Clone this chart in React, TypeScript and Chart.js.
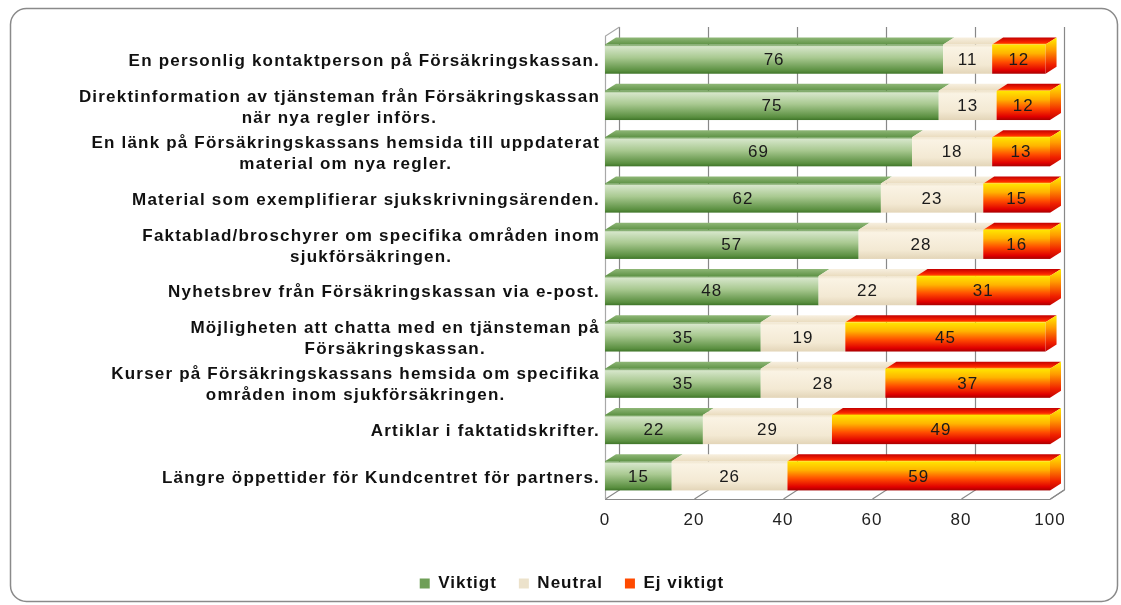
import React, { useEffect, useRef } from 'react';
import { Chart, registerables } from 'chart.js';
Chart.register(...registerables);

const categories: string[][] = [
  ['En personlig kontaktperson på Försäkringskassan.'],
  ['Direktinformation av tjänsteman från Försäkringskassan', 'när nya regler införs.'],
  ['En länk på Försäkringskassans hemsida till uppdaterat', 'material om nya regler.'],
  ['Material som exemplifierar sjukskrivningsärenden.'],
  ['Faktablad/broschyrer om specifika områden inom', 'sjukförsäkringen.'],
  ['Nyhetsbrev från Försäkringskassan via e-post.'],
  ['Möjligheten att chatta med en tjänsteman på', 'Försäkringskassan.'],
  ['Kurser på Försäkringskassans hemsida om specifika', 'områden inom sjukförsäkringen.'],
  ['Artiklar i faktatidskrifter.'],
  ['Längre öppettider för Kundcentret för partners.'],
];
const viktigt = [76, 75, 69, 62, 57, 48, 35, 35, 22, 15];
const neutral = [11, 13, 18, 23, 28, 22, 19, 28, 29, 26];
const ejViktigt = [12, 12, 13, 15, 16, 31, 45, 37, 49, 59];
const seriesNames = ['Viktigt', 'Neutral', 'Ej viktigt'];
const xMin = 0;
const xMax = 100;
const xStep = 20;

const FONT = '"Liberation Sans", Arial, sans-serif';
const SPACING = '1px';
const WALL_DX = 14;
const WALL_DY = 9;
const BAR_DX = 11;
const BAR_DY = 7;

function frontGradient(ctx: CanvasRenderingContext2D, j: number, top: number, bot: number) {
  const g = ctx.createLinearGradient(0, top, 0, bot);
  if (j === 0) {
    g.addColorStop(0, '#5d9244');
    g.addColorStop(0.07, '#d6e6ca');
    g.addColorStop(0.45, '#a9c991');
    g.addColorStop(0.9, '#5a8f40');
    g.addColorStop(1, '#3f7529');
  } else if (j === 1) {
    g.addColorStop(0, '#efe4cc');
    g.addColorStop(0.1, '#faf3e4');
    g.addColorStop(0.7, '#f3e9d3');
    g.addColorStop(1, '#e3d5b8');
  } else {
    g.addColorStop(0, '#ffe600');
    g.addColorStop(0.3, '#ffb400');
    g.addColorStop(0.6, '#ff4c00');
    g.addColorStop(0.88, '#e00000');
    g.addColorStop(1, '#a80000');
  }
  return g;
}

function topGradient(ctx: CanvasRenderingContext2D, j: number, top: number, back: number) {
  const g = ctx.createLinearGradient(0, back, 0, top);
  if (j === 0) {
    g.addColorStop(0, '#8fb777');
    g.addColorStop(1, '#5f9346');
  } else if (j === 1) {
    g.addColorStop(0, '#f7efdf');
    g.addColorStop(1, '#eadcbf');
  } else {
    g.addColorStop(0, '#c40000');
    g.addColorStop(0.75, '#ff2a00');
    g.addColorStop(1, '#ffa000');
  }
  return g;
}

const threeDPlugin = {
  id: 'threeD',
  beforeLayout(chart: any) {
    (chart.ctx as any).letterSpacing = SPACING;
  },
  beforeDraw(chart: any) {
    const ctx: CanvasRenderingContext2D = chart.ctx;
    (ctx as any).letterSpacing = SPACING;
    ctx.save();
    ctx.fillStyle = '#ffffff';
    ctx.fillRect(0, 0, chart.width, chart.height);
    ctx.strokeStyle = '#8a8a8a';
    ctx.lineWidth = 1.5;
    ctx.beginPath();
    (ctx as any).roundRect(10.5, 8.5, 1107, 593, 16);
    ctx.stroke();
    ctx.restore();
  },
  beforeDatasetsDraw(chart: any) {
    const ctx: CanvasRenderingContext2D = chart.ctx;
    const xs = chart.scales.x;
    const { top, bottom } = chart.chartArea;
    const x0 = xs.getPixelForValue(xMin);
    const x1 = xs.getPixelForValue(xMax);
    ctx.save();
    ctx.strokeStyle = '#888888';
    ctx.lineWidth = 1.2;
    for (let v = xMin; v <= xMax; v += xStep) {
      const px = Math.round(xs.getPixelForValue(v)) + 0.5;
      ctx.beginPath();
      ctx.moveTo(px + WALL_DX, top - WALL_DY);
      ctx.lineTo(px + WALL_DX, bottom - WALL_DY);
      ctx.lineTo(px, bottom);
      ctx.stroke();
    }
    ctx.strokeStyle = '#a8a8a8';
    ctx.beginPath();
    ctx.moveTo(x0 + 0.5, bottom);
    ctx.lineTo(x0 + 0.5, top);
    ctx.lineTo(x0 + WALL_DX + 0.5, top - WALL_DY);
    ctx.stroke();
    ctx.strokeStyle = '#8a8a8a';
    ctx.beginPath();
    ctx.moveTo(x0, bottom + 0.5);
    ctx.lineTo(x1, bottom + 0.5);
    ctx.lineTo(x1 + WALL_DX, bottom - WALL_DY);
    ctx.stroke();
    ctx.restore();
  },
  beforeDatasetDraw() {
    return false;
  },
  afterDatasetsDraw(chart: any) {
    const ctx: CanvasRenderingContext2D = chart.ctx;
    const { left, right } = chart.chartArea;
    const n = chart.data.labels.length;
    const metas = chart.data.datasets.map((_: any, j: number) => chart.getDatasetMeta(j));
    ctx.save();
    (ctx as any).letterSpacing = SPACING;
    for (let i = 0; i < n; i++) {
      let lastEnd = 0, lastTop = 0, lastBot = 0, lastJ = -1;
      for (let j = 0; j < metas.length; j++) {
        const el = metas[j].data[i];
        if (!el) continue;
        const p = el.getProps(['x', 'y', 'base', 'height'], true);
        const a = Math.max(left, Math.min(right, Math.min(p.x, p.base)));
        const b = Math.max(left, Math.min(right, Math.max(p.x, p.base)));
        if (b - a < 0.5) continue;
        const t = p.y - p.height / 2;
        const bt = p.y + p.height / 2;
        ctx.fillStyle = topGradient(ctx, j, t, t - BAR_DY);
        ctx.beginPath();
        ctx.moveTo(a, t);
        ctx.lineTo(b, t);
        ctx.lineTo(b + BAR_DX, t - BAR_DY);
        ctx.lineTo(a + BAR_DX, t - BAR_DY);
        ctx.closePath();
        ctx.fill();
        ctx.fillStyle = frontGradient(ctx, j, t, bt);
        ctx.fillRect(a, t, b - a, bt - t);
        lastEnd = b; lastTop = t; lastBot = bt; lastJ = j;
      }
      if (lastJ >= 0) {
        const g = ctx.createLinearGradient(0, lastTop - BAR_DY, 0, lastBot);
        if (lastJ === 2) {
          g.addColorStop(0, '#fff000');
          g.addColorStop(0.35, '#ff9a00');
          g.addColorStop(0.75, '#f02000');
          g.addColorStop(1, '#c00000');
        } else {
          g.addColorStop(0, '#eee');
          g.addColorStop(1, '#ccc');
        }
        ctx.fillStyle = g;
        ctx.beginPath();
        ctx.moveTo(lastEnd, lastTop);
        ctx.lineTo(lastEnd + BAR_DX, lastTop - BAR_DY);
        ctx.lineTo(lastEnd + BAR_DX, lastBot - BAR_DY);
        ctx.lineTo(lastEnd, lastBot);
        ctx.closePath();
        ctx.fill();
      }
    }
    ctx.font = `17px ${FONT}`;
    ctx.fillStyle = '#1a1a1a';
    ctx.textAlign = 'center';
    ctx.textBaseline = 'middle';
    for (let j = 0; j < metas.length; j++) {
      const data = chart.data.datasets[j].data;
      metas[j].data.forEach((el: any, i: number) => {
        const p = el.getProps(['x', 'y', 'base'], true);
        const a = Math.max(left, Math.min(right, p.base));
        const b = Math.max(left, Math.min(right, p.x));
        ctx.fillText(String(data[i]), (a + b) / 2, p.y + 1);
      });
    }
    const ys = chart.scales.y;
    (ctx as any).letterSpacing = '1.2px';
    ctx.font = `bold 17px ${FONT}`;
    ctx.fillStyle = '#111111';
    const rightEdge = left - 5;
    for (let i = 0; i < n; i++) {
      const lines: string[] = chart.data.labels[i];
      const yc = ys.getPixelForValue(i) + 2;
      const lh = 21;
      const widths = lines.map((s) => ctx.measureText(s).width);
      const w = Math.max(...widths);
      lines.forEach((s, k) => {
        const y = yc + (k - (lines.length - 1) / 2) * lh;
        if (lines.length === 1) {
          ctx.textAlign = 'right';
          ctx.fillText(s, rightEdge, y);
        } else {
          ctx.textAlign = 'center';
          ctx.fillText(s, rightEdge - w / 2, y);
        }
      });
    }
    ctx.restore();
  },
};

export default function App() {
  const ref = useRef<HTMLCanvasElement | null>(null);
  useEffect(() => {
    document.body.style.margin = '0';
    const canvas = ref.current;
    if (!canvas) return;
    const chart = new Chart(canvas, {
      type: 'bar',
      data: {
        labels: categories as any,
        datasets: [
          { label: seriesNames[0], data: viktigt, backgroundColor: '#6f9f57', borderWidth: 0 },
          { label: seriesNames[1], data: neutral, backgroundColor: '#ece2cb', borderWidth: 0 },
          { label: seriesNames[2], data: ejViktigt, backgroundColor: '#ff4a00', borderWidth: 0 },
        ],
      },
      options: {
        indexAxis: 'y',
        animation: false,
        responsive: false,
        maintainAspectRatio: false,
        datasets: { bar: { barPercentage: 0.63, categoryPercentage: 1 } },
        layout: { padding: { left: 94, right: 71, top: 36, bottom: 3 } },
        scales: {
          x: {
            stacked: true,
            min: xMin,
            max: xMax,
            ticks: { stepSize: xStep, padding: 11, color: '#222', font: { family: FONT, size: 17 } },
            grid: { display: false, drawTicks: false },
            border: { display: false },
            afterFit: (s: any) => { s.height = 54; },
          },
          y: {
            stacked: true,
            ticks: { display: false },
            grid: { display: false, drawTicks: false },
            border: { display: false },
            afterFit: (s: any) => { s.width = 511; },
          },
        },
        plugins: {
          legend: {
            position: 'bottom',
            labels: {
              boxWidth: 10,
              boxHeight: 10,
              padding: 22,
              color: '#111',
              font: { family: FONT, size: 17, weight: 'bold' },
            },
          },
          tooltip: { enabled: false },
        },
      } as any,
      plugins: [threeDPlugin as any],
    });
    return () => chart.destroy();
  }, []);
  return <canvas ref={ref} width={1121} height={605} style={{ display: 'block' }} />;
}
